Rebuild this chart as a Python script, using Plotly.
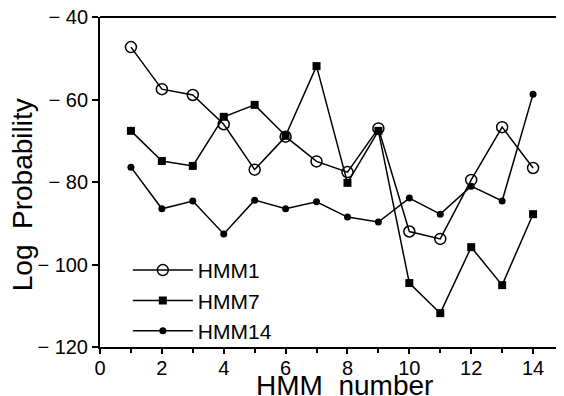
import plotly.graph_objects as go

hmm_number = list(range(1, 15))
hmm1 = [-47.3, -57.5, -58.9, -66.0, -77.0, -69.0, -75.0, -77.6, -67.0, -92.0, -93.8, -79.5, -66.7, -76.6]
hmm7 = [-67.6, -74.9, -76.1, -64.2, -61.3, -68.8, -51.9, -80.2, -67.6, -104.5, -111.8, -95.8, -105.0, -87.8]
hmm14 = [-76.4, -86.5, -84.6, -92.6, -84.4, -86.5, -84.8, -88.5, -89.7, -83.9, -87.8, -81.0, -84.6, -58.7]

x_ticks = [0, 2, 4, 6, 8, 10, 12, 14]
y_ticks = [-40, -60, -80, -100, -120]

font = "Liberation Sans, Arial, sans-serif"

fig = go.Figure()
fig.add_trace(go.Scatter(x=hmm_number, y=hmm1, name="HMM1", mode="lines+markers",
                         line=dict(color="black", width=1.5),
                         marker=dict(symbol="circle-open", size=11, color="black", line=dict(width=1.5))))
fig.add_trace(go.Scatter(x=hmm_number, y=hmm7, name="HMM7", mode="lines+markers",
                         line=dict(color="black", width=1.5),
                         marker=dict(symbol="square", size=8, color="black")))
fig.add_trace(go.Scatter(x=hmm_number, y=hmm14, name="HMM14", mode="lines+markers",
                         line=dict(color="black", width=1.5),
                         marker=dict(symbol="circle", size=7, color="black")))

fig.update_layout(
    width=556, height=388,
    margin=dict(l=92, r=0, t=9, b=49),
    plot_bgcolor="white", paper_bgcolor="white",
    font=dict(family=font, color="black", size=20),
    showlegend=True,
    legend=dict(x=0.06, y=-0.012, xanchor="left", yanchor="bottom",
                bgcolor="rgba(0,0,0,0)", font=dict(size=21, family=font),
                tracegroupgap=0, itemwidth=60),
    xaxis=dict(range=[0, 15], tickvals=x_ticks, ticktext=[str(v) for v in x_ticks],
               automargin=False, ticklabeloverflow="allow", ticklabelstandoff=-3,
               showgrid=False, zeroline=False, showline=True, linecolor="black", linewidth=2,
               ticks="outside", ticklen=5, tickwidth=1.5, tickcolor="black",
               minor=dict(dtick=1, ticks="outside", ticklen=4, tickwidth=1.5, tickcolor="black"),
               tickfont=dict(size=20)),
    yaxis=dict(range=[-120, -40], tickvals=y_ticks,
               ticktext=["\u2212 40", "\u2212 60", "\u2212 80", "\u2212 100", "\u2212 120"],
               automargin=False, ticklabeloverflow="allow",
               showgrid=False, zeroline=False, showline=True, linecolor="black", linewidth=2,
               ticks="outside", ticklen=6, tickwidth=1.5, tickcolor="black",
               tickfont=dict(size=20)),
    shapes=[dict(type="line", xref="paper", yref="paper", x0=0, x1=1, y0=1, y1=1,
                 line=dict(color="black", width=2))],
    annotations=[
        dict(text="HMM  number", xref="paper", yref="paper", x=0.528, y=-0.117,
             xanchor="center", yanchor="middle", showarrow=False, font=dict(size=28)),
        dict(text="Log  Probability", xref="paper", yref="paper", x=-0.168, y=0.46,
             xanchor="center", yanchor="middle", textangle=-90, showarrow=False,
             font=dict(size=28)),
    ],
)

fig.write_html("out.html")
